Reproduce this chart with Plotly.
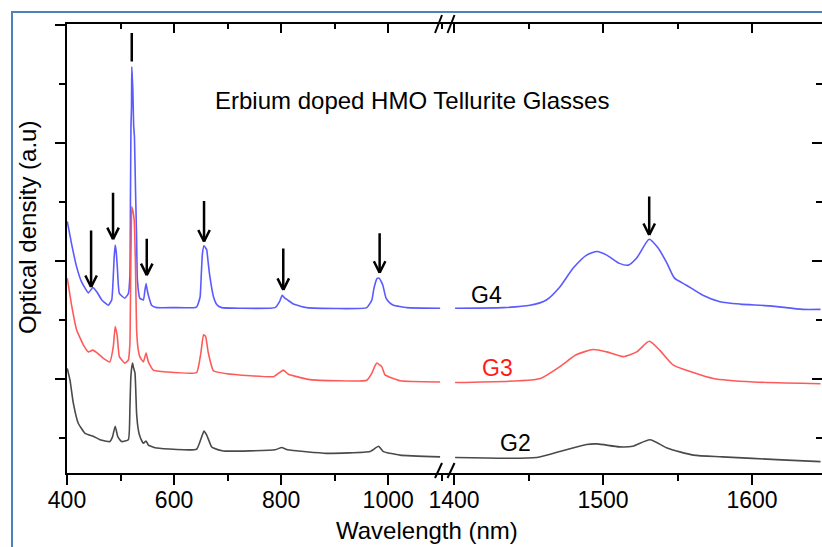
import plotly.graph_objects as go

# ---------------- data (wavelength nm, optical density a.u.) ----------------
g4_left_nm = [400.5, 409, 418, 427, 440, 448, 455.5, 465, 477, 483.5, 486.5, 488, 490, 492, 494, 497.8,
              508, 514.6, 517.5, 518.5, 519.5, 520.5, 521, 522, 523, 524.5, 526, 528, 530, 531.5, 536,
              542.7, 545.5, 547.7, 550, 552, 558, 567.6, 598.7, 642, 648.6, 651, 653, 656, 659, 661, 664,
              667, 673.5, 680, 689, 723, 789, 797, 802, 807, 812, 823, 848, 960, 969.5, 973, 975.7, 979,
              983, 987, 990, 996, 1003, 1010, 1035, 1097]
g4_left_od = [4.67, 4.27, 3.90, 3.65, 3.46, 3.55, 3.48, 3.34, 3.25, 3.34, 3.75, 4.05, 4.27, 4.15, 3.90, 3.45,
              3.37, 3.45, 3.75, 5.0, 6.3, 6.6, 7.29, 7.1, 6.9, 6.3, 6.1, 5.2, 4.4, 3.68, 3.37,
              3.34, 3.5, 3.62, 3.5, 3.42, 3.25, 3.21, 3.21, 3.22, 3.39, 3.8, 4.13, 4.26, 4.22, 4.19, 3.95,
              3.73, 3.40, 3.26, 3.21, 3.20, 3.21, 3.31, 3.42, 3.37, 3.34, 3.27, 3.21, 3.21, 3.34, 3.52, 3.62, 3.70,
              3.71, 3.65, 3.59, 3.37, 3.29, 3.25, 3.21, 3.20]

g3_left_nm = [400.5, 409, 418, 430.5, 440, 448, 456.7, 468, 480, 486.5, 490, 492, 494, 497.8, 508, 514.6,
              517.5, 519, 520, 521, 523, 525.5, 528, 530, 533, 536, 542.7, 547.7, 552, 561, 586, 642, 650,
              655, 659, 664, 673.5, 698.5, 785.6, 797, 804, 813.7, 854, 960, 969.5, 975, 979, 988, 994,
              1022, 1097]
g3_left_od = [3.71, 3.23, 2.83, 2.58, 2.46, 2.49, 2.44, 2.35, 2.29, 2.55, 2.89, 2.82, 2.72, 2.38, 2.27, 2.32,
              2.6, 3.8, 4.5, 4.92, 4.85, 4.7, 3.9, 2.83, 2.5, 2.38, 2.29, 2.44, 2.29, 2.15, 2.12, 2.11, 2.44,
              2.75, 2.72, 2.44, 2.14, 2.09, 2.04, 2.11, 2.15, 2.08, 1.99, 1.98, 2.10, 2.22, 2.27, 2.21, 2.07,
              1.97, 1.95]

g2_left_nm = [400.5, 405.6, 411.8, 421, 433.6, 449, 461.7, 480, 485, 490, 495, 502, 514.6, 517.5, 519, 521,
              522.6, 524, 527, 530, 533, 536.4, 542.6, 547.7, 552, 567.6, 642, 651.6, 656, 661, 670, 673.5,
              692, 789, 801, 812, 885, 966, 982, 991, 1022, 1097]
g2_left_od = [2.18, 1.98, 1.59, 1.25, 1.08, 1.03, 0.97, 0.94, 1.02, 1.20, 1.02, 0.94, 0.97, 1.5, 1.98, 2.2,
              2.27, 2.2, 2.10, 1.42, 1.15, 1.02, 0.91, 0.95, 0.88, 0.83, 0.81, 1.02, 1.12, 1.05, 0.85, 0.83,
              0.78, 0.80, 0.84, 0.80, 0.74, 0.77, 0.86, 0.77, 0.71, 0.68]

g4_right_nm = [1400.7, 1433, 1451, 1462, 1471, 1480, 1489, 1496, 1502.5, 1511, 1517, 1522.6, 1531, 1537,
               1543, 1548, 1556, 1567, 1578.5, 1592, 1612, 1634, 1646]
g4_right_od = [3.20, 3.21, 3.25, 3.34, 3.56, 3.88, 4.10, 4.16, 4.10, 3.96, 3.93, 4.05, 4.37, 4.22,
               3.96, 3.71, 3.59, 3.42, 3.31, 3.27, 3.24, 3.18, 3.18]

g3_right_nm = [1400.7, 1444, 1458, 1471, 1482, 1493.5, 1502.5, 1513.6, 1522.6, 1531, 1538, 1547, 1560.6,
               1574, 1601, 1646]
g3_right_od = [1.94, 1.97, 2.01, 2.21, 2.41, 2.50, 2.46, 2.38, 2.46, 2.64, 2.49, 2.24, 2.11,
               2.01, 1.95, 1.92]

g2_right_nm = [1400.7, 1455.5, 1471, 1489, 1496, 1511, 1520, 1531.5, 1543, 1560.6, 1580, 1620, 1646]
g2_right_od = [0.67, 0.67, 0.77, 0.89, 0.90, 0.85, 0.86, 0.97, 0.83, 0.71, 0.68, 0.63, 0.60]

# arrows: (panel, wavelength, tip value, shaft length px)
arrow_panel = ["L", "L", "L", "L", "L", "L", "R"]
arrow_nm = [445, 486, 549, 656, 804, 984, 1531]
arrow_tip = [3.56, 4.37, 3.76, 4.33, 3.51, 3.80, 4.44]
arrow_len = [58, 48, 38, 42, 43, 41, 40]
marker_nm = 521
marker_val = 7.38

series_names = ["G4", "G3", "G2"]
series_colors = ["#5a5aff", "#ff5a5a", "#4a4a4a"]
label_nm = [1422, 1429, 1441]
label_val = [3.42, 2.19, 0.92]
label_colors = ["black", "#ff1a1a", "black"]

x_left_range = [400, 1108]
x_right_range = [1394.6, 1647]
y_range = [0.407, 8.017]
split = 0.502

FONT = "Arial, 'Liberation Sans', sans-serif"
W, H = 822, 547
ML, MR, MT, MB = 67, 0, 24, 74
PW, PH = W - ML - MR, H - MT - MB

fig = go.Figure()

left_data = [(g4_left_nm, g4_left_od), (g3_left_nm, g3_left_od), (g2_left_nm, g2_left_od)]
right_data = [(g4_right_nm, g4_right_od), (g3_right_nm, g3_right_od), (g2_right_nm, g2_right_od)]
for name, col, (lx, ly), (rx, ry) in zip(series_names, series_colors, left_data, right_data):
    fig.add_trace(go.Scatter(x=lx, y=ly, mode="lines",
                             line=dict(color=col, width=1.6, shape="spline", smoothing=0.4),
                             xaxis="x", yaxis="y", name=name, showlegend=False))
    fig.add_trace(go.Scatter(x=rx, y=ry, mode="lines",
                             line=dict(color=col, width=1.6, shape="spline", smoothing=0.6),
                             xaxis="x2", yaxis="y2", name=name, showlegend=False))

# empty traces so top tick axes are drawn
fig.add_trace(go.Scatter(x=[None], y=[None], xaxis="x3", yaxis="y", showlegend=False, hoverinfo="skip"))
fig.add_trace(go.Scatter(x=[None], y=[None], xaxis="x4", yaxis="y2", showlegend=False, hoverinfo="skip"))

tickfont = dict(family=FONT, size=23, color="black")
common_x = dict(showgrid=False, zeroline=False, showline=True, linecolor="black", linewidth=2,
                ticks="outside", ticklen=10, tickwidth=2, tickcolor="black", tickfont=tickfont,
                ticklabelstandoff=-5)

fig.update_layout(
    width=W, height=H, margin=dict(l=ML, r=MR, t=MT, b=MB),
    paper_bgcolor="white", plot_bgcolor="white", showlegend=False,
    xaxis=dict(domain=[0, split], range=x_left_range, tick0=400, dtick=200, anchor="y",
               minor=dict(dtick=100, ticks="outside", ticklen=6, tickwidth=2, tickcolor="black"), **common_x),
    xaxis2=dict(domain=[split, 1], range=x_right_range, tick0=1400, dtick=100, anchor="y2",
                minor=dict(dtick=50, ticks="outside", ticklen=6, tickwidth=2, tickcolor="black"), **common_x),
    xaxis3=dict(overlaying="x", side="top", range=x_left_range, tick0=400, dtick=200, showticklabels=False,
                showgrid=False, zeroline=False, showline=True, linecolor="black", linewidth=2,
                ticks="inside", ticklen=9, tickwidth=2, tickcolor="black",
                minor=dict(dtick=100, ticks="inside", ticklen=5, tickwidth=2, tickcolor="black")),
    xaxis4=dict(overlaying="x2", side="top", range=x_right_range, tick0=1400, dtick=100, showticklabels=False,
                showgrid=False, zeroline=False, showline=True, linecolor="black", linewidth=2,
                ticks="inside", ticklen=9, tickwidth=2, tickcolor="black",
                minor=dict(dtick=50, ticks="inside", ticklen=5, tickwidth=2, tickcolor="black")),
    yaxis=dict(range=y_range, anchor="x", side="left", showticklabels=False, showgrid=False, zeroline=False,
               showline=True, linecolor="black", linewidth=2, tick0=0, dtick=2,
               ticks="outside", ticklen=10, tickwidth=2, tickcolor="black",
               minor=dict(dtick=1, ticks="outside", ticklen=6, tickwidth=2, tickcolor="black")),
    yaxis2=dict(range=y_range, anchor="x2", side="right", showticklabels=False, showgrid=False, zeroline=False,
                showline=True, linecolor="black", linewidth=2, tick0=0, dtick=2,
                ticks="inside", ticklen=10, tickwidth=2, tickcolor="black",
                minor=dict(dtick=1, ticks="inside", ticklen=6, tickwidth=2, tickcolor="black")),
)

ann = []
# arrows built from arrays
for p, nm, tip, ln in zip(arrow_panel, arrow_nm, arrow_tip, arrow_len):
    xr, yr = ("x", "y") if p == "L" else ("x2", "y2")
    for axo, ayo in [(0, -ln), (-6.5, -13), (6.5, -13)]:
        ann.append(dict(x=nm, y=tip, xref=xr, yref=yr, ax=axo, ay=ayo, text="", showarrow=True,
                        arrowhead=0, arrowwidth=2.5, arrowcolor="black", standoff=0, startstandoff=0))
ann.append(dict(x=marker_nm, y=marker_val, xref="x", yref="y", ax=0, ay=-30, text="", showarrow=True,
                arrowhead=0, arrowwidth=2.5, arrowcolor="black", standoff=0))

for name, nm, v, c in zip(series_names, label_nm, label_val, label_colors):
    ann.append(dict(x=nm, y=v, xref="x2", yref="y2", text=name, showarrow=False,
                    xanchor="center", yanchor="middle",
                    font=dict(family=FONT, size=23, color=c)))

ann.append(dict(x=(412 - ML) / PW, y=(H - MB - 100) / PH, xref="paper", yref="paper",
                xanchor="center", yanchor="middle",
                text="Erbium doped HMO Tellurite Glasses", showarrow=False,
                font=dict(family=FONT, size=24, color="black")))
ann.append(dict(x=(427 - ML) / PW, y=(H - MB - 530) / PH, xref="paper", yref="paper",
                xanchor="center", yanchor="middle",
                text="Wavelength (nm)", showarrow=False, font=dict(family=FONT, size=24, color="black")))
ann.append(dict(x=(27 - ML) / PW, y=(H - MB - 228) / PH, xref="paper", yref="paper", textangle=-90,
                xanchor="center", yanchor="middle",
                text="Optical density (a.u)", showarrow=False, font=dict(family=FONT, size=24, color="black")))
fig.update_layout(annotations=ann)

# break marks and outer frame
shapes = []
bx = split
for off in (-7.5 / PW, 5.0 / PW):
    xc = bx + off
    shapes.append(dict(type="line", xref="paper", yref="paper", x0=xc - 3.5 / PW, y0=-5 / PH,
                       x1=xc + 3.5 / PW, y1=10 / PH, line=dict(color="black", width=2)))
    shapes.append(dict(type="line", xref="paper", yref="paper", x0=xc - 3.5 / PW, y0=1 - 9 / PH,
                       x1=xc + 3.5 / PW, y1=1 + 9 / PH, line=dict(color="black", width=2)))
shapes.append(dict(type="rect", xref="paper", yref="paper", x0=(12 - ML) / PW, y0=-0.5,
                   x1=1.2, y1=(H - MB - 12) / PH, line=dict(color="#4f81bd", width=2),
                   fillcolor="rgba(0,0,0,0)", layer="below"))
fig.update_layout(shapes=shapes)

fig.write_html("out.html")
